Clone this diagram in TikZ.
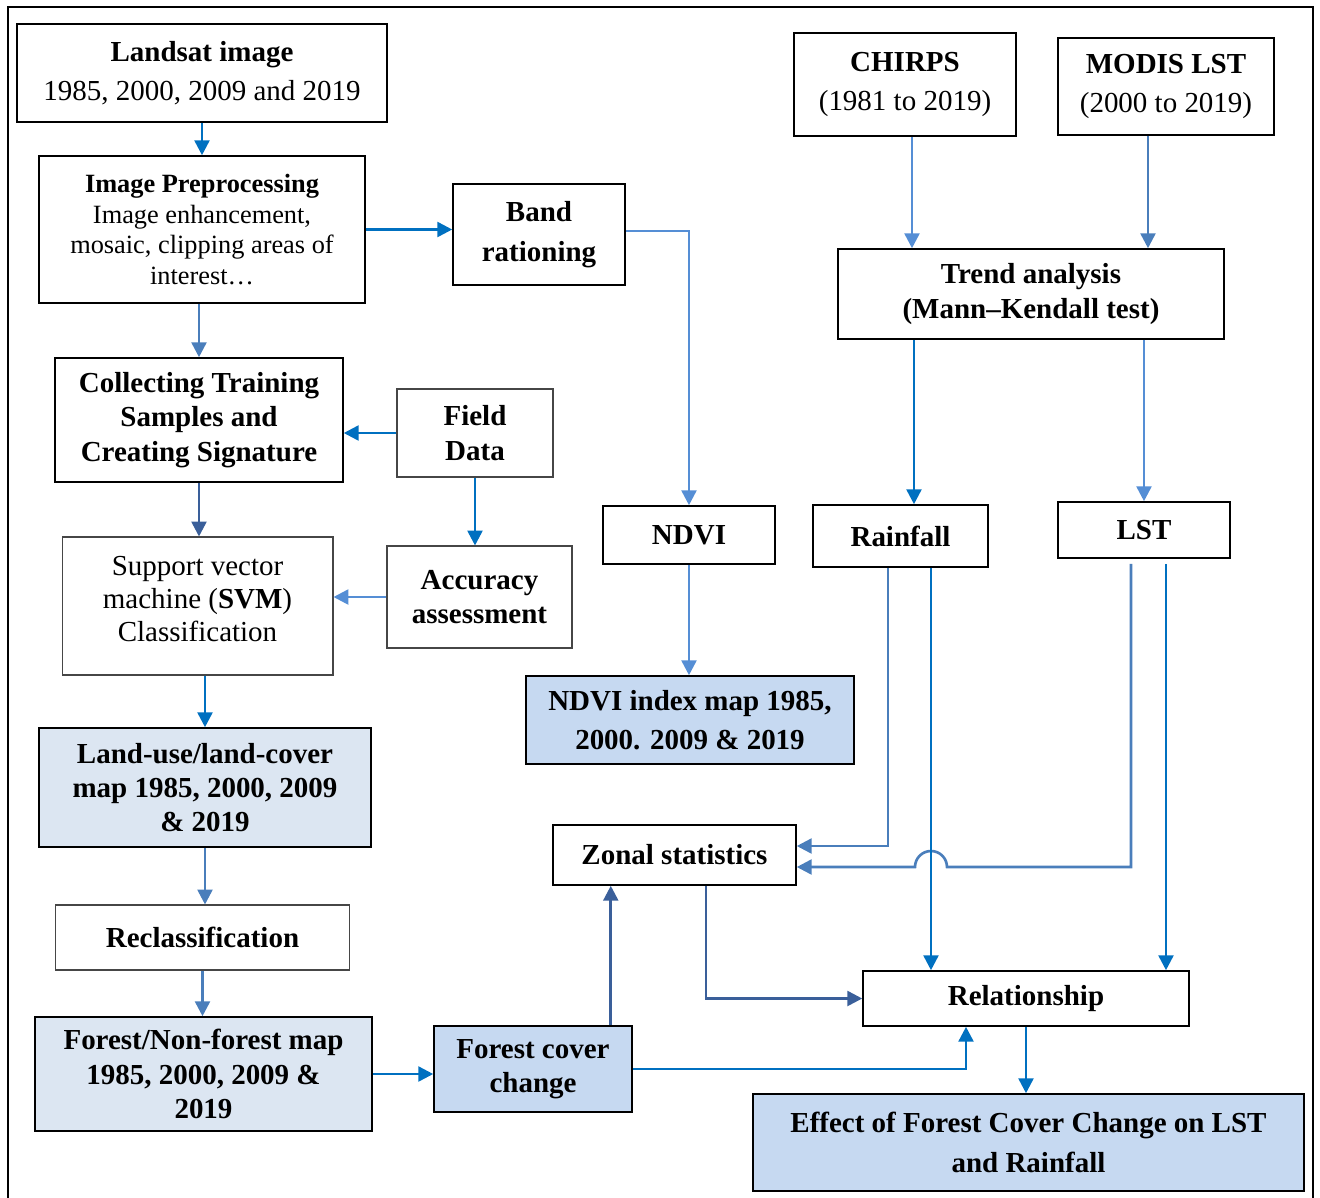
\documentclass[tikz,border=0pt]{standalone}
\usepackage{fontspec}
\setmainfont{Liberation Serif}
\usetikzlibrary{
    arrows.meta,
    calc,
    positioning
}
\definecolor{ink}{RGB}{0,0,0}
\definecolor{thinink}{RGB}{70,70,70}
\definecolor{darkflow}{RGB}{0,112,192}
\definecolor{lightflow}{RGB}{85,142,213}
\definecolor{steelflow}{RGB}{74,126,187}
\definecolor{deepflow}{RGB}{58,95,154}
\definecolor{mapfill}{RGB}{198,217,241}
\definecolor{palefill}{RGB}{220,230,242}
\tikzset{
    stepbox/.style={
        rectangle,
        draw=ink,
        line width=0.9pt,
        align=center,
        inner sep=2pt,
        text=ink,
        font=\fontsize{16.5}{19.5}\selectfont\bfseries
    },
    thinbox/.style={stepbox, draw=thinink, line width=0.6pt},
    mapbox/.style={stepbox, fill=mapfill},
    palebox/.style={stepbox, fill=palefill},
    loose/.style={font=\fontsize{16.5}{22.5}\selectfont\bfseries},
    plain/.style={font=\fontsize{16.5}{18.8}\selectfont},
    flow/.style={
        -{Triangle[length=8.5pt,width=8.5pt]},
        line width=1.5pt
    },
    darkarrow/.style={flow, color=darkflow},
    lightarrow/.style={flow, color=lightflow},
    steelarrow/.style={flow, color=steelflow},
    deeparrow/.style={flow, color=deepflow},
    frame/.style={draw=ink, line width=1pt}
}

\begin{document}
\begin{tikzpicture}[x=0.02cm, y=-0.02cm]
\useasboundingbox (0,0) rectangle (1320,1198);
\draw[frame] (8,7) rectangle (1313,1230);

% Left column
\node[stepbox, loose, minimum width=7.4cm, minimum height=1.96cm] (landsat) at (202,73)
    {Landsat image\\{\mdseries 1985, 2000, 2009 and 2019}};
\node[stepbox, font=\fontsize{15}{17.6}\selectfont, minimum width=6.52cm, minimum height=2.94cm] (preproc) at (202,229.5)
    {\textbf{Image Preprocessing}\\Image enhancement,\\mosaic, clipping areas of\\interest\ldots};
\node[stepbox, minimum width=5.76cm, minimum height=2.48cm] (collect) at (199,420)
    {Collecting Training\\Samples and\\Creating Signature};
\node[thinbox, plain, minimum width=5.42cm, minimum height=2.76cm, text depth=0.28cm] (svm) at (197.5,606)
    {Support vector\\machine (\textbf{SVM})\\Classification};
\node[palebox, minimum width=6.64cm, minimum height=2.38cm] (lulc) at (205,787.5)
    {Land-use/land-cover\\map 1985, 2000, 2009\\\& 2019};
\node[thinbox, minimum width=5.9cm, minimum height=1.3cm] (reclass) at (202.5,937.5)
    {Reclassification};
\node[palebox, minimum width=6.74cm, minimum height=2.28cm] (fnf) at (203.5,1074)
    {Forest/Non-forest map\\1985, 2000, 2009 \&\\2019};

% Middle column
\node[stepbox, loose, minimum width=3.44cm, minimum height=2.02cm] (band) at (539,234.5)
    {Band\\rationing};
\node[thinbox, minimum width=3.12cm, minimum height=1.76cm] (field) at (475,433)
    {Field\\Data};
\node[thinbox, minimum width=3.7cm, minimum height=2.04cm] (acc) at (479.5,597)
    {Accuracy\\assessment};
\node[stepbox, minimum width=3.44cm, minimum height=1.16cm] (ndvi) at (689,535)
    {NDVI};
\node[mapbox, loose, minimum width=6.56cm, minimum height=1.76cm] (ndvimap) at (690,720)
    {NDVI index map 1985,\\2000. 2009 \& 2019};
\node[stepbox, minimum width=4.86cm, minimum height=1.2cm] (zonal) at (674.5,855)
    {Zonal statistics};
\node[mapbox, minimum width=3.96cm, minimum height=1.72cm] (fcc) at (533,1069)
    {Forest cover\\change};

% Right column
\node[stepbox, loose, minimum width=4.44cm, minimum height=2.06cm] (chirps) at (905,84.5)
    {CHIRPS\\{\mdseries (1981 to 2019)}};
\node[stepbox, loose, minimum width=4.32cm, minimum height=1.94cm] (modis) at (1166,86.5)
    {MODIS LST\\{\mdseries (2000 to 2019)}};
\node[stepbox, minimum width=7.72cm, minimum height=1.8cm] (trend) at (1031,294)
    {Trend analysis\\(Mann--Kendall test)};
\node[stepbox, minimum width=3.5cm, minimum height=1.24cm] (rain) at (900.5,536)
    {Rainfall};
\node[stepbox, minimum width=3.44cm, minimum height=1.12cm] (lst) at (1144,530)
    {LST};
\node[stepbox, minimum width=6.52cm, minimum height=1.1cm] (relation) at (1026,998.5)
    {Relationship};
\node[mapbox, loose, minimum width=11.02cm, minimum height=1.94cm] (effect) at (1028.5,1142.5)
    {Effect of Forest Cover Change on LST\\and Rainfall};

% Helper points
\coordinate (rainline) at ([xshift=0.61cm]rain.south);
\coordinate (lstin) at ([yshift=-0.24cm]zonal.east);

% Edges - left side
\draw[darkarrow] (landsat.south) -- (preproc.north);
\draw[darkarrow] (preproc.east) -- (preproc.east -| band.west);
\draw[steelarrow] (collect.north |- preproc.south) -- (collect.north);
\draw[darkarrow] (field.west) -- (field.west -| collect.east);
\draw[deeparrow] (collect.south) -- (collect.south |- svm.north);
\draw[darkarrow] (field.south) -- (field.south |- acc.north);
\draw[lightarrow] (acc.west) -- (acc.west -| svm.east);
\draw[darkarrow] (lulc.north |- svm.south) -- (lulc.north);
\draw[steelarrow] (lulc.south) -- (lulc.south |- reclass.north);
\draw[steelarrow] (reclass.south) -- (reclass.south |- fnf.north);
\draw[darkarrow] (fnf.east) -- (fnf.east -| fcc.west);

% Edges - NDVI branch
\draw[lightarrow] ([yshift=0.07cm]band.east) -| (ndvi.north);
\draw[lightarrow] (ndvi.south) -- (ndvi.south |- ndvimap.north);

% Edges - climate branch
\draw[lightarrow] ([xshift=0.14cm]chirps.south) -- ([xshift=0.14cm]chirps.south |- trend.north);
\draw[steelarrow] ([xshift=-0.36cm]modis.south) -- ([xshift=-0.36cm]modis.south |- trend.north);
\draw[darkarrow] ([xshift=0.27cm]rain.north |- trend.south) -- ([xshift=0.27cm]rain.north);
\draw[lightarrow] (lst.north |- trend.south) -- (lst.north);

% Edges - into zonal statistics and relationship
\draw[steelarrow] ([xshift=-0.25cm]rain.south) |- ([yshift=0.18cm]zonal.east);
\draw[steelarrow] ([xshift=-0.26cm, yshift=-0.1cm]lst.south) |- ($(rainline |- lstin)+(16,0)$)
    arc[start angle=0, end angle=180, radius=0.32cm] -- (lstin);
\draw[darkarrow] (rainline) -- (rainline |- relation.north);
\draw[darkarrow] ([xshift=0.44cm, yshift=-0.1cm]lst.south) -- ([xshift=0.44cm]lst.south |- relation.north);
\draw[deeparrow] ([xshift=0.63cm]zonal.south) |- (relation.west);
\draw[deeparrow] ([xshift=-0.44cm]fcc.north east) -- ([xshift=-0.44cm]fcc.north east |- zonal.south);
\draw[darkarrow] (fcc.east) -| ([xshift=-1.2cm]relation.south);
\draw[darkarrow] (relation.south) -- (relation.south |- effect.north);
\end{tikzpicture}
\end{document}
